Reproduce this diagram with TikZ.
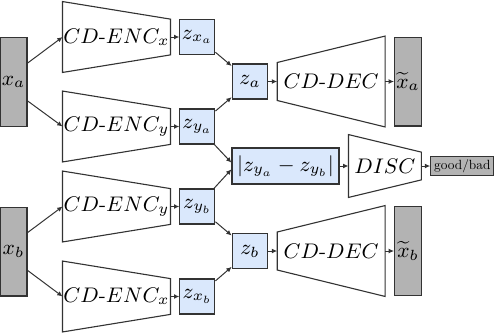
\RequirePackage{fix-cm}
\documentclass[tikz,border=0pt]{standalone}
\usetikzlibrary{arrows.meta, positioning, calc}
\definecolor{azulLatente}{HTML}{DAE8FC}
\definecolor{grisImagen}{HTML}{B3B3B3}
\definecolor{bordeOscuro}{HTML}{333333}

\begin{document}
\begin{tikzpicture}[x=0.45pt, y=-0.45pt, node distance=4pt, font=\fontsize{9.5}{11}\selectfont,
        img/.style={draw=bordeOscuro, fill=grisImagen, line width=0.5pt, inner sep=0pt,
            minimum width=12.15pt, minimum height=40pt},
        lat/.style={draw=bordeOscuro, fill=azulLatente, line width=0.5pt, inner sep=0pt,
            minimum width=15.75pt, minimum height=15.75pt},
        enc/.style={inner sep=0pt, minimum width=48.15pt, minimum height=31.5pt},
        dec/.style={inner sep=0pt, minimum width=48.15pt, minimum height=40.5pt},
        trap/.style={draw=bordeOscuro, line width=0.5pt},
        rel/.style={-{Latex[length=2.4pt,width=2.2pt]}, bordeOscuro, line width=0.45pt}
    ]
        \useasboundingbox (0,0) rectangle (494,334);
        % par a
        \node[img] (xa) at (13.5,82) {$x_a$};
        \node[enc] (encxa) at (116.5,37) {$CD$-$ENC_x$};
        \node[enc] (encya) at (116.5,126.5) {$CD$-$ENC_y$};
        \node[lat, right=of encxa] (zxa) {$z_{x_a}$};
        \node[lat, right=of encya] (zya) {$z_{y_a}$};
        \node[lat, minimum width=16pt] (za) at (250,81.5) {$z_a$};
        \node[dec, right=of za] (deca) {$CD$-$DEC$};
        \node[img, right=of deca] (xta) {$\widetilde{x}_a$};
        % par b
        \node[img] (xb) at (13.5,251.5) {$x_b$};
        \node[enc] (encyb) at (116.5,206.5) {$CD$-$ENC_y$};
        \node[enc] (encxb) at (116.5,296.5) {$CD$-$ENC_x$};
        \node[lat, right=of encyb] (zyb) {$z_{y_b}$};
        \node[lat, right=of encxb] (zxb) {$z_{x_b}$};
        \node[lat, minimum width=16pt] (zb) at (250,251) {$z_b$};
        \node[dec, right=of zb] (decb) {$CD$-$DEC$};
        \node[img, right=of decb] (xtb) {$\widetilde{x}_b$};
        % discriminador
        \node[lat, minimum width=48.15pt, minimum height=16.2pt] (diff) at (285.5,166)
            {$\left|z_{y_a}-z_{y_b}\right|$};
        \node[inner sep=0pt, minimum width=32.4pt, minimum height=27.9pt, right=of diff] (disc) {$DISC$};
        \node[img, minimum width=28.35pt, minimum height=8.55pt, right=of disc] (gb)
            {\scalebox{0.6}{\fontsize{10}{12}\selectfont good/bad}};
        % trapecios
        \foreach \n in {encxa,encya,encyb,encxb,disc}
            \draw[trap] (\n.north west) -- ([yshift=-7.9pt]\n.north east)
                -- ([yshift=7.9pt]\n.south east) -- (\n.south west) -- cycle;
        \foreach \n in {deca,decb}
            \draw[trap] ([yshift=-11.9pt]\n.north west) -- (\n.north east)
                -- (\n.south east) -- ([yshift=11.9pt]\n.south west) -- cycle;
        % conexiones
        \draw[rel] ([yshift=8.5pt]xa.east) -- (encxa.west);
        \draw[rel] ([yshift=-8.5pt]xa.east) -- (encya.west);
        \draw[rel] ([yshift=8.5pt]xb.east) -- (encyb.west);
        \draw[rel] ([yshift=-8.5pt]xb.east) -- (encxb.west);
        \draw[rel] (encxa.east) -- (zxa); \draw[rel] (encya.east) -- (zya);
        \draw[rel] (encyb.east) -- (zyb); \draw[rel] (encxb.east) -- (zxb);
        \draw[rel] (zxa) -- (za); \draw[rel] (zya) -- (za);
        \draw[rel] (zyb) -- (zb); \draw[rel] (zxb) -- (zb);
        \draw[rel] (zya) -- ([yshift=1.5pt]diff.west);
        \draw[rel] (zyb) -- ([yshift=-1.5pt]diff.west);
        \draw[rel] (za) -- (deca.west); \draw[rel] (deca.east) -- (xta);
        \draw[rel] (zb) -- (decb.west); \draw[rel] (decb.east) -- (xtb);
        \draw[rel] (diff) -- (disc.west); \draw[rel] (disc.east) -- (gb);
    \end{tikzpicture}
\end{document}
